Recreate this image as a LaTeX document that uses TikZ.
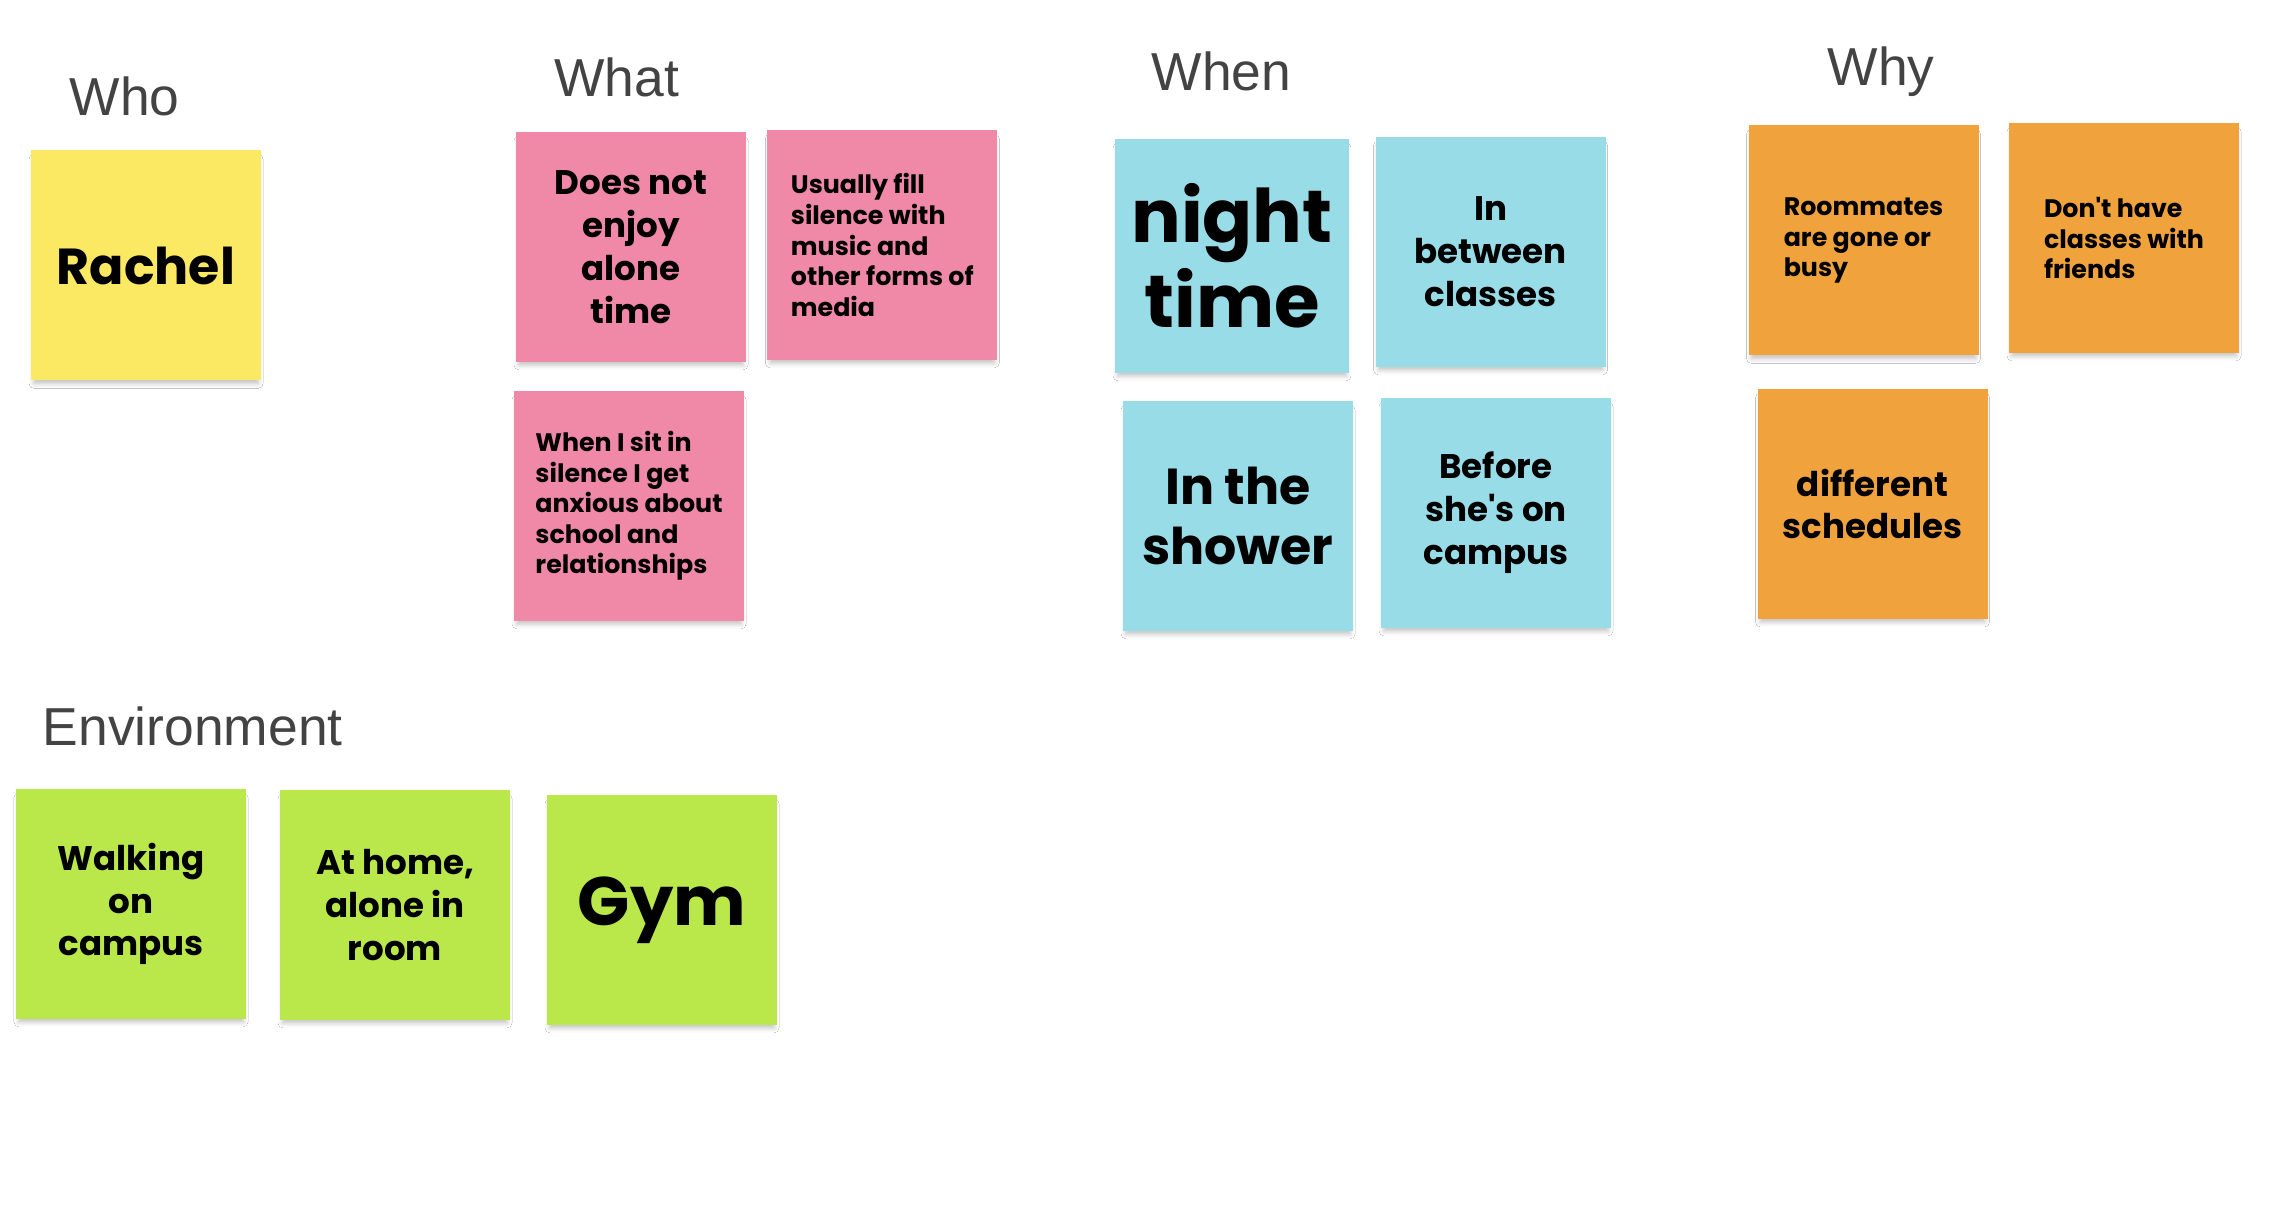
\documentclass[tikz,border=0pt]{standalone}
\usepackage{fontspec}
\setmainfont{Poppins}
\newfontfamily\headfont{Liberation Sans}
\usetikzlibrary{shadows.blur}
\definecolor{color1}{RGB}{251,233,99}
\definecolor{color2}{RGB}{240,136,168}
\definecolor{color3}{RGB}{152,220,232}
\definecolor{color4}{RGB}{240,163,60}
\definecolor{color5}{RGB}{186,232,74}
\definecolor{titlegray}{RGB}{67,67,67}

\begin{document}
\begin{tikzpicture}
% tablero de notas: quien, que, cuando, por que y entorno
  \tikzset{NoteStyle/.style = {rectangle, minimum width=2.30cm, minimum height=2.30cm,
                               inner sep=0pt, font=\bfseries,
                               blur shadow={shadow xshift=0pt, shadow yshift=-0.6mm,
                                            shadow scale=0.975, shadow blur radius=0.5mm,
                                            shadow opacity=25}},
           TitleStyle/.style = {anchor=base west, inner sep=0pt, text=titlegray,
                                font=\headfont\fontsize{15.2}{18}\selectfont},
           TextSmall/.style  = {font=\bfseries\fontsize{7.2}{8.7}\selectfont},
           TextMid/.style    = {font=\bfseries\fontsize{9.7}{12.2}\selectfont},
           TextLarge/.style  = {font=\bfseries\fontsize{14.4}{16.8}\selectfont},
           TextHuge/.style   = {font=\bfseries\fontsize{21}{24.2}\selectfont}}

\useasboundingbox[fill=white] (0,0) rectangle (22.84,12.30);

%titles
\node[TitleStyle] (who)  at (0.69,11.14)  {Who};
\node[TitleStyle] (what) at (5.535,11.33) {What};
\node[TitleStyle] (when) at (11.51,11.395) {When};
\node[TitleStyle] (why)  at (18.27,11.44) {Why};
\node[TitleStyle] (env)  at (0.42,4.845)  {Environment};

%part who
\node[NoteStyle, fill=color1, TextLarge] (rachel) at (1.46,9.645) {Rachel};

%part what
\node[NoteStyle, fill=color2, TextMid, align=center] (enjoy) at (6.31,9.83)
  {Does not\\enjoy\\alone\\time};
\node[NoteStyle, fill=color2, TextSmall, align=left] (fill) at (8.823,9.85)
  {Usually fill\\silence with\\music and\\other forms of\\media};
\node[NoteStyle, fill=color2, TextSmall, align=left] (anxious) at (6.29,7.24)
  {When I sit in\\silence I get\\anxious about\\school and\\relationships};

%part when
\node[NoteStyle, fill=color3, TextHuge, align=center, minimum width=2.34cm,
      minimum height=2.34cm] (night) at (12.32,9.74) {night\\time};
\node[NoteStyle, fill=color3, TextMid, align=center] (between) at (14.905,9.78)
  {In\\between\\classes};
\node[NoteStyle, fill=color3, TextLarge, align=center] (shower) at (12.38,7.14)
  {In the\\shower};
\node[NoteStyle, fill=color3, TextMid, align=center] (before) at (14.96,7.17)
  {Before\\she\textquotesingle s on\\campus};

%part why
\node[NoteStyle, fill=color4, TextSmall, align=left] (roommates) at (18.635,9.895)
  {Roommates\\are gone or\\busy};
\node[NoteStyle, fill=color4, TextSmall, align=left] (friends) at (21.24,9.92)
  {Don\textquotesingle t have\\classes with\\friends};
\node[NoteStyle, fill=color4, TextMid, align=center] (schedules) at (18.725,7.26)
  {different\\schedules};

%part environment
\node[NoteStyle, fill=color5, TextMid, align=center] (walking) at (1.31,3.26)
  {Walking\\on\\campus};
\node[NoteStyle, fill=color5, TextMid, align=center] (home) at (3.95,3.25)
  {At home,\\alone in\\room};
\node[NoteStyle, fill=color5, TextHuge, font=\bfseries\fontsize{19.5}{22}\selectfont]
  (gym) at (6.62,3.20) {Gym};

\end{tikzpicture}
\end{document}
